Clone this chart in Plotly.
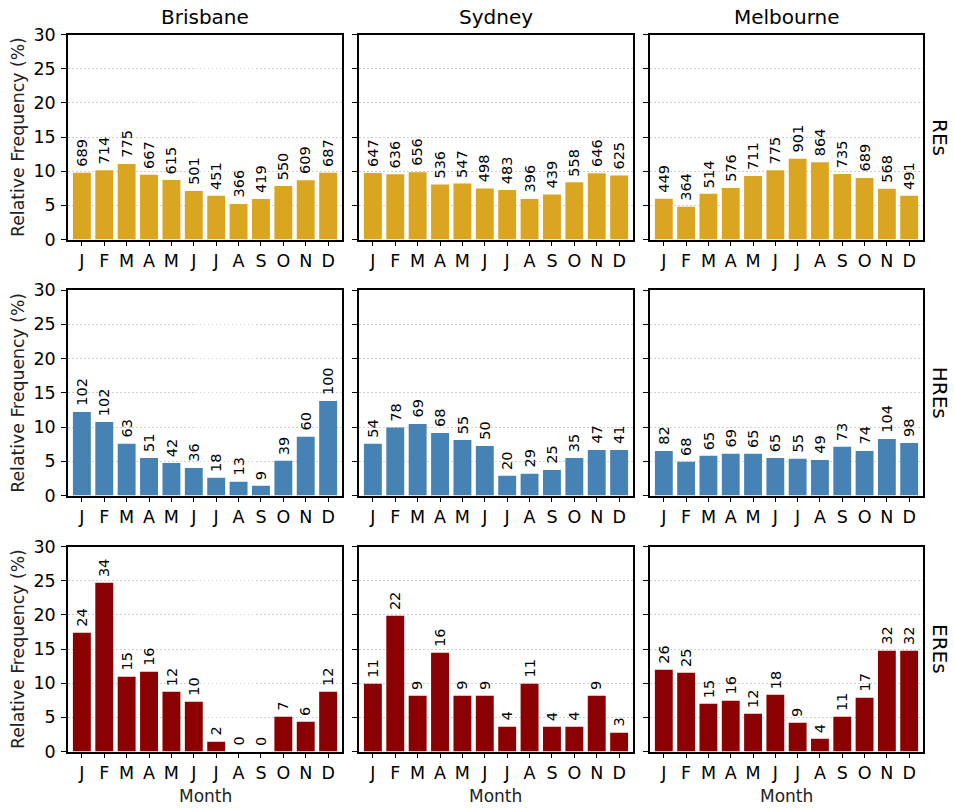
import plotly.graph_objects as go

months = ["J", "F", "M", "A", "M", "J", "J", "A", "S", "O", "N", "D"]
cities = ["Brisbane", "Sydney", "Melbourne"]
event_types = ["REs", "HREs", "EREs"]

# Relative frequency (%)
bris_res = [9.76, 10.15, 11.05, 9.46, 8.7, 7.09, 6.4, 5.21, 5.93, 7.83, 8.66, 9.76]
syd_res = [9.72, 9.55, 9.85, 8.04, 8.2, 7.47, 7.24, 5.94, 6.58, 8.37, 9.7, 9.37]
melb_res = [5.95, 4.8, 6.68, 7.52, 9.3, 10.14, 11.8, 11.3, 9.6, 9.0, 7.42, 6.4]

bris_hres = [12.2, 10.74, 7.54, 5.49, 4.76, 4.03, 2.58, 1.99, 1.41, 5.06, 8.56, 13.8]
syd_hres = [7.54, 9.92, 10.45, 9.14, 8.12, 7.24, 2.87, 3.16, 3.74, 5.49, 6.66, 6.66]
melb_hres = [6.51, 4.91, 5.79, 6.08, 6.08, 5.49, 5.35, 5.2, 7.1, 6.51, 8.26, 7.68]

bris_eres = [17.37, 24.68, 10.93, 11.66, 8.73, 7.27, 1.41, 0.0, 0.0, 5.07, 4.34, 8.73]
syd_eres = [9.9, 19.85, 8.15, 14.44, 8.15, 8.15, 3.61, 9.9, 3.61, 3.61, 8.15, 2.73]
melb_eres = [11.95, 11.51, 6.98, 7.41, 5.51, 8.29, 4.2, 1.85, 5.07, 7.85, 14.73, 14.73]

# Event counts (bar annotations)
bris_res_n = [689, 714, 775, 667, 615, 501, 451, 366, 419, 550, 609, 687]
syd_res_n = [647, 636, 656, 536, 547, 498, 483, 396, 439, 558, 646, 625]
melb_res_n = [449, 364, 514, 576, 711, 775, 901, 864, 735, 689, 568, 491]

bris_hres_n = [102, 102, 63, 51, 42, 36, 18, 13, 9, 39, 60, 100]
syd_hres_n = [54, 78, 69, 68, 55, 50, 20, 29, 25, 35, 47, 41]
melb_hres_n = [82, 68, 65, 69, 65, 65, 55, 49, 73, 74, 104, 98]

bris_eres_n = [24, 34, 15, 16, 12, 10, 2, 0, 0, 7, 6, 12]
syd_eres_n = [11, 22, 9, 16, 9, 9, 4, 11, 4, 4, 9, 3]
melb_eres_n = [26, 25, 15, 16, 12, 18, 9, 4, 11, 17, 32, 32]

y_ticks = [0, 5, 10, 15, 20, 25, 30]

values = [[bris_res, syd_res, melb_res],
          [bris_hres, syd_hres, melb_hres],
          [bris_eres, syd_eres, melb_eres]]
counts = [[bris_res_n, syd_res_n, melb_res_n],
          [bris_hres_n, syd_hres_n, melb_hres_n],
          [bris_eres_n, syd_eres_n, melb_eres_n]]
colors = ["#DAA520", "#4682B4", "#8B0000"]

W, H = 954, 809
col_px = [(68, 342), (359, 633), (650, 923)]
row_px = [(34.5, 239.5), (290, 495.5), (546.5, 751.5)]

FONT = "DejaVu Sans"
fig = go.Figure()
layout = {}
annotations = []
xpos = list(range(12))

for r in range(3):
    for c in range(3):
        i = r * 3 + c + 1
        xa = "x" if i == 1 else f"x{i}"
        ya = "y" if i == 1 else f"y{i}"
        fig.add_trace(go.Bar(
            x=xpos, y=values[r][c], xaxis=xa, yaxis=ya,
            marker=dict(color=colors[r], line=dict(width=0)),
            width=0.8, showlegend=False,
        ))
        for xi, v, n in zip(xpos, values[r][c], counts[r][c]):
            annotations.append(dict(
                text=str(n), x=xi, y=v, xref=xa, yref=ya,
                showarrow=False, textangle=-90, xanchor="center", yanchor="bottom",
                yshift=5, borderpad=0,
                font=dict(family=FONT, size=14.5, color="black")))
        x0, x1 = col_px[c]
        y0, y1 = row_px[r]
        layout["xaxis" if i == 1 else f"xaxis{i}"] = dict(
            domain=[x0 / W, x1 / W], anchor=ya, range=[-0.62, 11.62],
            tickmode="array", tickvals=xpos, ticktext=months,
            ticks="outside", ticklen=5, tickwidth=1, tickcolor="black",
            ticklabelstandoff=0,
            showline=True, linecolor="black", linewidth=1.5, mirror=True,
            showgrid=False, zeroline=False, automargin=False,
            tickfont=dict(family=FONT, size=17.5, color="black"),
            fixedrange=True,
        )
        layout["yaxis" if i == 1 else f"yaxis{i}"] = dict(
            domain=[1 - y1 / H, 1 - y0 / H], anchor=xa, range=[0, 30],
            tickmode="array", tickvals=y_ticks,
            ticks="outside", ticklen=5, tickwidth=1, tickcolor="black",
            ticklabelstandoff=2,
            showticklabels=(c == 0),
            showline=True, linecolor="black", linewidth=1.5, mirror=True,
            showgrid=True, gridcolor="#d0d0d0", griddash="1.5px,2.5px", gridwidth=1,
            zeroline=False, automargin=False,
            tickfont=dict(family=FONT, size=17.5, color="black"),
            fixedrange=True,
        )

for c, name in enumerate(cities):
    x0, x1 = col_px[c]
    annotations.append(dict(
        text=name, x=(x0 + x1) / 2 / W, y=1 - 17 / H, xref="paper", yref="paper",
        showarrow=False, xanchor="center", yanchor="middle",
        font=dict(family=FONT, size=20, color="black")))
    annotations.append(dict(
        text="Month", x=(x0 + x1) / 2 / W, y=1 - 796 / H, xref="paper", yref="paper",
        showarrow=False, xanchor="center", yanchor="middle",
        font=dict(family=FONT, size=17, color="#222")))
for r, name in enumerate(event_types):
    y0, y1 = row_px[r]
    annotations.append(dict(
        text=name, x=940 / W, y=1 - (y0 + y1) / 2 / H, xref="paper", yref="paper",
        showarrow=False, xanchor="center", yanchor="middle", textangle=90,
        font=dict(family=FONT, size=20, color="black")))
    annotations.append(dict(
        text="Relative Frequency (%)", x=18 / W, y=1 - (y0 + y1) / 2 / H,
        xref="paper", yref="paper",
        showarrow=False, xanchor="center", yanchor="middle", textangle=-90,
        font=dict(family=FONT, size=17.3, color="#222")))

fig.update_layout(
    width=W, height=H,
    margin=dict(l=0, r=0, t=0, b=0),
    paper_bgcolor="white", plot_bgcolor="white",
    bargap=0.2,
    annotations=annotations,
    font=dict(family=FONT),
    **layout,
)

fig.write_html("out.html", config={"displayModeBar": False},
               post_script="document.body.style.margin='0';")
